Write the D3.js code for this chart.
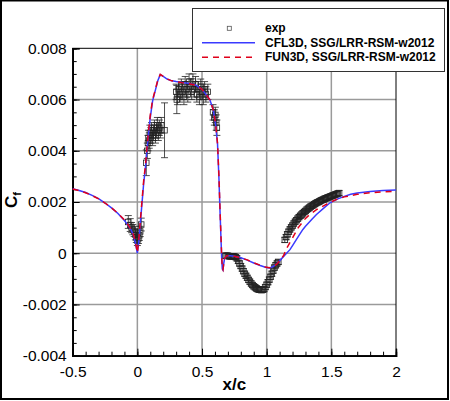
<!DOCTYPE html>
<html>
<head>
<meta charset="utf-8">
<script src="https://cdn.jsdelivr.net/npm/d3@7"></script>
<style>
  body { margin: 0; background: #fff; }
  svg { display: block; font-family: "Liberation Sans", Arial, sans-serif; }
</style>
</head>
<body>
<div id="chart"></div>
<script>
// ---- data ----
const xTicks = [-0.5, 0, 0.5, 1, 1.5, 2];
const xTickLabels = ["-0.5", "0", "0.5", "1", "1.5", "2"];
const yTicks = [-0.004, -0.002, 0, 0.002, 0.004, 0.006, 0.008];
const yTickLabels = ["-0.004", "-0.002", "0", "0.002", "0.004", "0.006", "0.008"];

const seriesNames = ["exp", "CFL3D, SSG/LRR-RSM-w2012", "FUN3D, SSG/LRR-RSM-w2012"];

// CFL3D (solid blue)
const cfl3dX = [-0.5, -0.45, -0.4, -0.35, -0.3, -0.25, -0.2, -0.15, -0.1, -0.07, -0.05, -0.03, -0.015, 0,
  0.012, 0.025, 0.04, 0.05, 0.06, 0.074, 0.087, 0.1, 0.118, 0.138, 0.158, 0.177, 0.2, 0.23, 0.266, 0.3, 0.343,
  0.4, 0.45, 0.5, 0.53, 0.56, 0.587, 0.605, 0.62, 0.631, 0.638, 0.645, 0.652, 0.657, 0.662, 0.668, 0.675, 0.69,
  0.72, 0.75, 0.8, 0.85, 0.9, 0.95, 0.99, 1.02, 1.05, 1.08, 1.11, 1.15, 1.18, 1.2, 1.25, 1.28, 1.3, 1.35, 1.385,
  1.45, 1.49, 1.55, 1.6, 1.65, 1.7, 1.8, 1.9, 2.0];
const cfl3dY = [0.00252, 0.00245, 0.00237, 0.00226, 0.00213, 0.00196, 0.00177, 0.00155, 0.00128, 0.00108, 0.00092, 0.0007, 0.0004, 0,
  0.0005, 0.0013, 0.0022, 0.0028, 0.0032, 0.004, 0.0047, 0.0053, 0.00595, 0.00634, 0.00673, 0.00697, 0.0069, 0.0068, 0.00673, 0.0067, 0.00667,
  0.00663, 0.00657, 0.0064, 0.0062, 0.006, 0.0056, 0.00504, 0.00426, 0.0029, 0.0018, 0.0008, -0.0002, -0.00062, -0.00066, -0.0004, -0.0002, -0.0001,
  -0.0001, -0.00012, -0.00018, -0.00027, -0.00038, -0.00048, -0.00055, -0.00058, -0.00052, -0.0004, -0.00024, -0.00002, 0.00014, 0.0003, 0.0007, 0.00093, 0.00105, 0.00133, 0.00151,
  0.0018, 0.00197, 0.00212, 0.00222, 0.0023, 0.00235, 0.00241, 0.00245, 0.00247];

// FUN3D (dashed red)
const fun3dX = [-0.5, -0.45, -0.4, -0.35, -0.3, -0.25, -0.2, -0.15, -0.1, -0.07, -0.05, -0.03, -0.015, 0,
  0.012, 0.025, 0.04, 0.05, 0.06, 0.074, 0.087, 0.1, 0.118, 0.138, 0.158, 0.177, 0.2, 0.23, 0.266, 0.3, 0.343,
  0.4, 0.45, 0.5, 0.53, 0.56, 0.587, 0.605, 0.62, 0.631, 0.638, 0.645, 0.652, 0.657, 0.662, 0.668, 0.675, 0.69,
  0.72, 0.75, 0.8, 0.85, 0.9, 0.95, 0.99, 1.02, 1.05, 1.08, 1.1, 1.13, 1.155, 1.2, 1.243, 1.3, 1.333, 1.385,
  1.45, 1.5, 1.55, 1.6, 1.7, 1.8, 1.9, 2.0];
const fun3dY = [0.00251, 0.00244, 0.00236, 0.00225, 0.00212, 0.00196, 0.00177, 0.00156, 0.0013, 0.0011, 0.00094, 0.00072, 0.00045, 0.00002,
  0.0006, 0.0014, 0.0023, 0.0029, 0.0033, 0.0041, 0.0048, 0.0054, 0.006, 0.00637, 0.00676, 0.00698, 0.0069, 0.0068, 0.00673, 0.0067, 0.00666,
  0.00662, 0.00656, 0.0064, 0.0062, 0.006, 0.0056, 0.00505, 0.00428, 0.003, 0.0019, 0.0009, -0.0001, -0.00058, -0.00064, -0.0004, -0.0002, -0.0001,
  -0.0001, -0.00012, -0.00018, -0.00026, -0.00037, -0.00047, -0.00054, -0.00057, -0.00052, -0.00042, -0.0003, -0.0001, 0.0002, 0.0006, 0.00099, 0.00136, 0.00151, 0.0017,
  0.00188, 0.00201, 0.00212, 0.0022, 0.0023, 0.00236, 0.0024, 0.00242];

// experiment (squares, with error bars)
const expX = [-0.07, -0.055, -0.045, -0.035, -0.025, -0.015, -0.008, 0, 0.008, 0.015, 0.022, 0.03,
  0.069, 0.077, 0.082, 0.086, 0.092, 0.097, 0.104, 0.11, 0.118, 0.125, 0.132, 0.14, 0.148, 0.155, 0.162, 0.17, 0.178, 0.185, 0.21,
  0.3, 0.305, 0.31, 0.32, 0.33, 0.34, 0.35, 0.36, 0.37, 0.38, 0.39, 0.4, 0.41, 0.42, 0.43, 0.44, 0.45, 0.46, 0.47, 0.48, 0.49, 0.5,
  0.51, 0.52, 0.53, 0.545, 0.585, 0.595, 0.603, 0.61, 0.615,
  0.68, 0.69, 0.7, 0.71, 0.72, 0.73, 0.74, 0.75, 0.76, 0.77, 0.78, 0.79, 0.8, 0.81, 0.82, 0.83, 0.84, 0.85, 0.86, 0.87,
  0.88, 0.89, 0.9, 0.91, 0.92, 0.93, 0.94, 0.95, 0.96, 0.97, 0.98, 0.99, 1.0, 1.01, 1.02, 1.03, 1.04, 1.05, 1.06, 1.07, 1.08, 1.09,
  1.14, 1.15, 1.16, 1.17, 1.18, 1.19, 1.2, 1.21, 1.22, 1.23, 1.24, 1.25, 1.26, 1.27, 1.28, 1.29, 1.3, 1.31, 1.32, 1.33,
  1.34, 1.35, 1.36, 1.37, 1.38, 1.39, 1.4, 1.41, 1.42, 1.43, 1.44, 1.45, 1.46, 1.47, 1.48, 1.49, 1.5, 1.51, 1.52, 1.53,
  1.54, 1.55, 1.56];
const expY = [0.00122, 0.0011, 0.001, 0.00092, 0.00085, 0.00072, 0.00062, 0.0005, 0.00058, 0.0007, 0.00085, 0.00112,
  0.00353, 0.004, 0.0043, 0.0045, 0.0044, 0.0047, 0.0046, 0.0048, 0.0045, 0.0047, 0.0049, 0.0046, 0.0048, 0.005, 0.0047, 0.0049, 0.0048, 0.005, 0.0048,
  0.0063, 0.006, 0.0061, 0.0064, 0.0062, 0.0065, 0.0063, 0.0061, 0.0066, 0.0064, 0.0062, 0.0067, 0.0065, 0.0063, 0.0067, 0.0064, 0.0066, 0.0062, 0.0064, 0.0061, 0.0065, 0.0063,
  0.0061, 0.0064, 0.0062, 0.0063, 0.0055, 0.0053, 0.0054, 0.0051, 0.0049,
  -0.0001, -0.0001, -0.0001, -0.00012, -0.00012, -0.00012, -0.00012, -0.00013, -0.00015, -0.0002, -0.0003, -0.0004, -0.0005, -0.0006, -0.0007, -0.0008, -0.00088, -0.00096, -0.00104, -0.00111,
  -0.00118, -0.00124, -0.00129, -0.00133, -0.00137, -0.0014, -0.00142, -0.00143, -0.00144, -0.00143, -0.0014, -0.00132, -0.00123, -0.00113, -0.00103, -0.00092, -0.0008, -0.00068, -0.00056, -0.00047, -0.0004, -0.00034,
  0.00052, 0.00063, 0.00074, 0.00084, 0.00093, 0.00101, 0.00108, 0.00116, 0.00123, 0.00129, 0.00135, 0.00141, 0.00146, 0.00151, 0.00156, 0.00161, 0.00165, 0.0017, 0.00174, 0.00178,
  0.00182, 0.00185, 0.00188, 0.00192, 0.00195, 0.00198, 0.002, 0.00203, 0.00206, 0.00208, 0.0021, 0.00213, 0.00215, 0.00217, 0.00219, 0.00221, 0.00223, 0.00225, 0.00227, 0.00229,
  0.00231, 0.00233, 0.00235];
const expErr = [0.00025, 0.00025, 0.0002, 0.0002, 0.0002, 0.0002, 0.0002, 0.0002, 0.0002, 0.0002, 0.0002, 0.00025,
  0.0005, 0.0003, 0.0003, 0.0003, 0.0003, 0.0003, 0.0003, 0.0003, 0.0003, 0.0003, 0.0003, 0.0003, 0.0003, 0.0003, 0.0003, 0.0003, 0.0003, 0.0003, 0.00107,
  0.0003, 0.00055, 0.0003, 0.0003, 0.0003, 0.0003, 0.0003, 0.0003, 0.0003, 0.0003, 0.0003, 0.0003, 0.0003, 0.0003, 0.0003, 0.0003, 0.0003, 0.0003, 0.0003, 0.0003, 0.0003, 0.0003,
  0.0003, 0.0003, 0.0003, 0.0003, 0.0003, 0.0003, 0.0003, 0.0003, 0.0003,
  0.0001, 0.0001, 0.0001, 0.0001, 0.0001, 0.0001, 0.0001, 0.0001, 0.0001, 0.0001, 0.0001, 0.0001, 0.0001, 0.0001, 0.0001, 0.0001, 0.0001, 0.0001, 0.0001, 0.0001,
  0.0001, 0.0001, 0.0001, 0.0001, 0.0001, 0.0001, 0.0001, 0.0001, 0.0001, 0.0001, 0.0001, 0.0001, 0.0001, 0.0001, 0.0001, 0.0001, 0.0001, 0.0001, 0.0001, 0.0001, 0.0001, 0.0001,
  0.0001, 0.0001, 0.0001, 0.0001, 0.0001, 0.0001, 0.0001, 0.0001, 0.0001, 0.0001, 0.0001, 0.0001, 0.0001, 0.0001, 0.0001, 0.0001, 0.0001, 0.0001, 0.0001, 0.0001,
  0.0001, 0.0001, 0.0001, 0.0001, 0.0001, 0.0001, 0.0001, 0.0001, 0.0001, 0.0001, 0.0001, 0.0001, 0.0001, 0.0001, 0.0001, 0.0001, 0.0001, 0.0001, 0.0001, 0.0001,
  0.0001, 0.0001, 0.0001];

// ---- layout ----
const W = 450, H = 401;
const margin = { top: 48.3, right: 54, bottom: 45.3, left: 72.7 };
const width = W - margin.left - margin.right,
  height = H - margin.top - margin.bottom;

const svg = d3.select("#chart").append("svg").attr("width", W).attr("height", H);

// outer frame of the picture
svg.append("rect").attr("x", 1).attr("y", 0.5).attr("width", W - 3).attr("height", H - 2.5)
  .attr("fill", "none").attr("stroke", "#000").attr("stroke-width", 2);

const g = svg.append("g").attr("transform", `translate(${margin.left},${margin.top})`);

const x = d3.scaleLinear().domain([-0.5, 2]).range([0, width]);
const y = d3.scaleLinear().domain([-0.004, 0.008]).range([height, 0]);

// grid
g.append("g").selectAll("line").data(xTicks.slice(1, -1)).join("line")
  .attr("x1", (d) => x(d)).attr("x2", (d) => x(d)).attr("y1", 0).attr("y2", height)
  .attr("stroke", "#9a9a9a").attr("stroke-width", 1.5);
g.append("g").selectAll("line").data(yTicks.slice(1, -1)).join("line")
  .attr("y1", (d) => y(d)).attr("y2", (d) => y(d)).attr("x1", 0).attr("x2", width)
  .attr("stroke", "#9a9a9a").attr("stroke-width", 1.5);

// frame
g.append("rect").attr("width", width).attr("height", height)
  .attr("fill", "none").attr("stroke", "#000").attr("stroke-width", 1);

// bottom axis: ticks point inward
const xAxis = d3.axisBottom(x).tickValues(xTicks).tickSize(-7).tickPadding(10)
  .tickFormat((d, i) => xTickLabels[i]);
const xa = g.append("g").attr("transform", `translate(0,${height})`).call(xAxis);
const xMinor = d3.axisBottom(x).tickValues(d3.range(-0.5, 2.001, 0.1)).tickSize(-4).tickFormat("");
g.append("g").attr("transform", `translate(0,${height})`).call(xMinor);

const yAxis = d3.axisLeft(y).tickValues(yTicks).tickSize(-7).tickPadding(6)
  .tickFormat((d, i) => yTickLabels[i]);
const ya = g.append("g").call(yAxis);
const yMinor = d3.axisLeft(y).tickValues(d3.range(-0.004, 0.00801, 0.0005)).tickSize(-4).tickFormat("");
g.append("g").call(yMinor);

g.selectAll(".domain").attr("stroke", "#000").attr("stroke-width", 1.5);
g.selectAll(".tick line").attr("stroke", "#000").attr("stroke-width", 1);
g.selectAll(".tick text").attr("font-size", 15.5).attr("fill", "#000")
  .attr("font-family", '"Liberation Sans", Arial, sans-serif');
xa.selectAll(".tick text").attr("dy", "0.71em");

// axis titles
svg.append("text").attr("x", margin.left + width / 2).attr("y", 390)
  .attr("text-anchor", "middle").attr("font-size", 17).attr("font-weight", "bold").text("x/c");
const yt = svg.append("text").attr("transform", `translate(17,${margin.top + height / 2 - 2}) rotate(-90)`)
  .attr("text-anchor", "middle").attr("font-size", 17).attr("font-weight", "bold");
yt.append("tspan").text("C");
yt.append("tspan").attr("font-size", 11).attr("dy", 4).text("f");

// experiment
const expData = expX.map((d, i) => ({ x: d, y: expY[i], e: expErr[i] }));
const bars = g.append("g").attr("stroke", "#222").attr("stroke-width", 0.8);
expData.filter((d) => d.e > 0).forEach((d) => {
  const cx = x(d.x);
  bars.append("line").attr("x1", cx).attr("x2", cx).attr("y1", y(d.y - d.e)).attr("y2", y(d.y + d.e));
  bars.append("line").attr("x1", cx - 3.5).attr("x2", cx + 3.5).attr("y1", y(d.y - d.e)).attr("y2", y(d.y - d.e));
  bars.append("line").attr("x1", cx - 3.5).attr("x2", cx + 3.5).attr("y1", y(d.y + d.e)).attr("y2", y(d.y + d.e));
});
g.append("g").selectAll("rect").data(expData).join("rect")
  .attr("x", (d) => x(d.x) - 2.75).attr("y", (d) => y(d.y) - 2.75)
  .attr("width", 5.5).attr("height", 5.5)
  .attr("fill", "none").attr("stroke", "#222").attr("stroke-width", 0.8);

// CFD lines
const line = d3.line().x((d) => x(d[0])).y((d) => y(d[1]));
g.append("path").datum(d3.zip(cfl3dX, cfl3dY)).attr("d", line)
  .attr("fill", "none").attr("stroke", "#3a3aff").attr("stroke-width", 1.5);
g.append("path").datum(d3.zip(fun3dX, fun3dY)).attr("d", line)
  .attr("fill", "none").attr("stroke", "#e0001a").attr("stroke-width", 1.5).attr("stroke-dasharray", "6,5");

// legend
const lg = svg.append("g");
lg.append("rect").attr("x", 192.5).attr("y", 8.5).attr("width", 252).attr("height", 63)
  .attr("fill", "#fff").attr("stroke", "#333").attr("stroke-width", 1);
lg.append("rect").attr("x", 227.3).attr("y", 26.3).attr("width", 4).attr("height", 4)
  .attr("fill", "none").attr("stroke", "#555").attr("stroke-width", 0.8);
lg.append("line").attr("x1", 202).attr("x2", 255).attr("y1", 42.7).attr("y2", 42.7)
  .attr("stroke", "#3a3aff").attr("stroke-width", 1.5);
lg.append("line").attr("x1", 202).attr("x2", 255).attr("y1", 57.3).attr("y2", 57.3)
  .attr("stroke", "#e0001a").attr("stroke-width", 1.5).attr("stroke-dasharray", "6,5");
lg.selectAll("text").data(seriesNames).join("text")
  .attr("x", 265).attr("y", (d, i) => 32 + i * 14.7)
  .attr("font-size", 12).attr("font-weight", "bold").text((d) => d);
</script>
</body>
</html>
